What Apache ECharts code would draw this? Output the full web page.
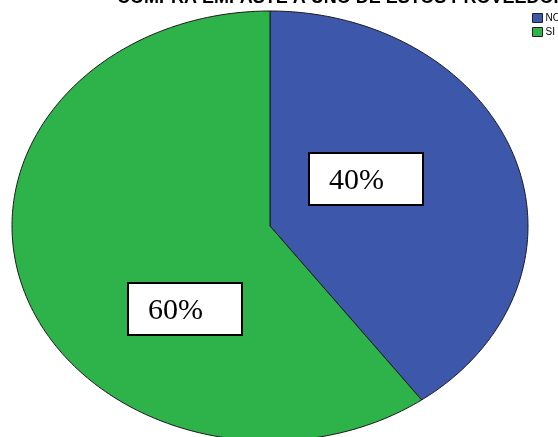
<!DOCTYPE html>
<html><head><meta charset="utf-8">
<script src="https://cdn.jsdelivr.net/npm/echarts@6/dist/echarts.min.js"></script>
<style>html,body{margin:0;padding:0;background:#fff}#c{width:558px;height:437px}</style>
</head><body><div id="c"></div>
<script>
const categories = ['NO', 'SI'];
const values = [40, 60];
const percentLabels = ['40%', '60%'];
const colors = ['#3d58ab', '#2eb34a'];
const titleText = 'COMPRA EMPASTE A UNO DE ESTOS PROVEEDORES';

// layout (positions/styles)
const CX = 270, CY = 226, RX = 258, RY = 215;
const labelBoxOffsets = [[39, -73], [-142, 57]];
const BOX_W = 114, BOX_H = 52;

const total = values.reduce((a, b) => a + b, 0);
const startFrac = [];
let acc = 0;
values.forEach(v => { startFrac.push(acc / total); acc += v; });

function makeRender(i) {
  return function (params, api) {
    const v = api.value(0);
    const a0 = startFrac[i] * Math.PI * 2;
    const a1 = a0 + (v / total) * Math.PI * 2;
    const pts = [[CX, CY]];
    const steps = 200;
    for (let k = 0; k <= steps; k++) {
      const t = a0 + (a1 - a0) * k / steps;
      pts.push([CX + RX * Math.sin(t), CY - RY * Math.cos(t)]);
    }
    const bx = CX + labelBoxOffsets[i][0], by = CY + labelBoxOffsets[i][1];
    return {
      type: 'group',
      children: [
        { type: 'polygon', shape: { points: pts }, style: { fill: colors[i], stroke: '#1a1a1a', lineWidth: 1 } },
        { type: 'rect', z2: 10, shape: { x: bx, y: by, width: BOX_W, height: BOX_H }, style: { fill: '#fff', stroke: '#000', lineWidth: 2 } },
        { type: 'text', z2: 11, style: { text: percentLabels[i], x: bx + 20, y: by + BOX_H / 2 + 2, font: '30px "Liberation Serif"', fill: '#000', verticalAlign: 'middle', align: 'left' } }
      ]
    };
  };
}

const chart = echarts.init(document.getElementById('c'), null, { renderer: 'canvas' });
chart.setOption({
  animation: false,
  title: {
    text: titleText, left: 117, top: -11, padding: 0,
    textStyle: { fontFamily: 'Liberation Sans', fontWeight: 'bold', fontSize: 18, color: '#000' }
  },
  legend: {
    data: categories,
    orient: 'vertical', left: 532, top: 13, padding: 0,
    icon: 'rect', itemWidth: 10, itemHeight: 9, itemGap: 4,
    itemStyle: { borderColor: '#222', borderWidth: 1 },
    textStyle: { fontFamily: 'Liberation Sans', fontSize: 10, color: '#000', padding: [0, 0, 0, -2] }
  },
  series: categories.map((name, i) => ({
    type: 'custom', name: name, coordinateSystem: 'none',
    data: [values[i]], itemStyle: { color: colors[i] },
    renderItem: makeRender(i)
  }))
});
</script></body></html>
